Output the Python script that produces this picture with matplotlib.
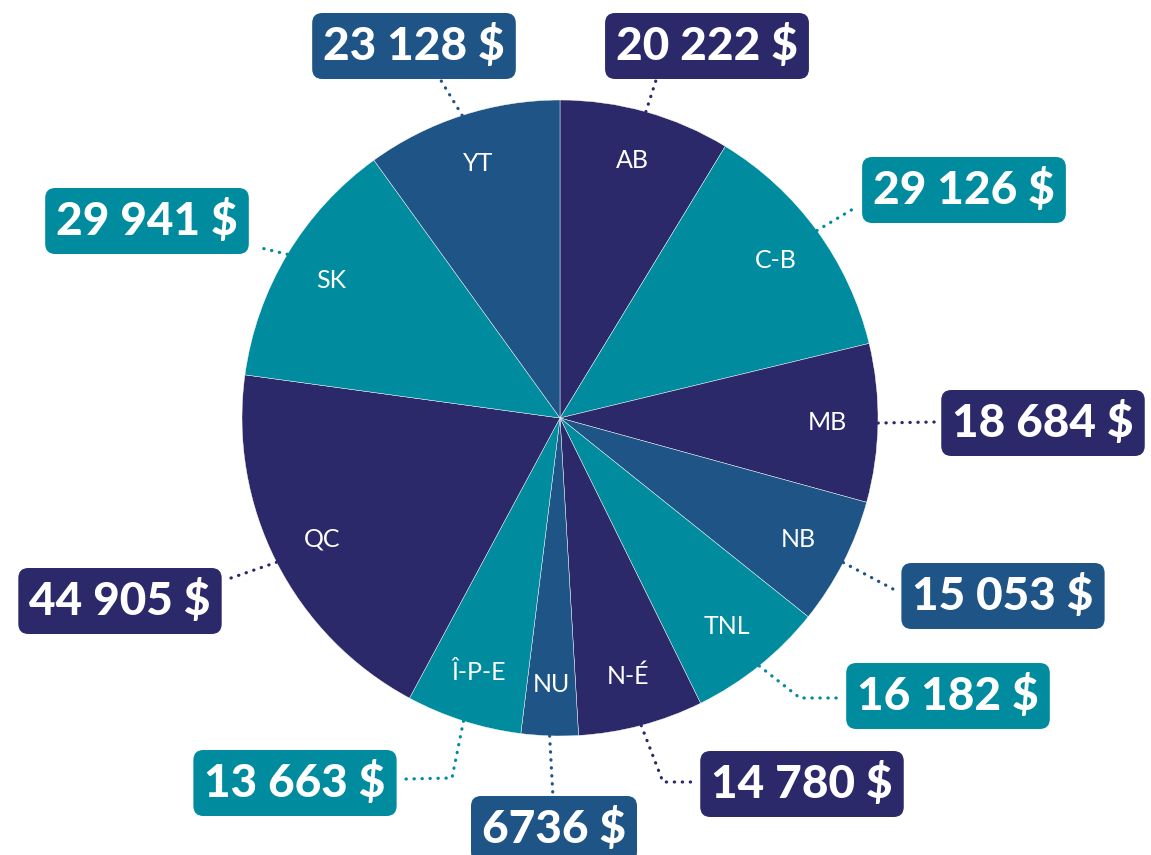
import numpy as np
import matplotlib.pyplot as plt

# slices, clockwise from 12 o'clock
provinces = ['AB', 'C-B', 'MB', 'NB', 'TNL', 'N-É', 'NU', 'Î-P-E', 'QC', 'SK', 'YT']
amounts = [20222, 29126, 18684, 15053, 16182, 14780, 6736, 13663, 44905, 29941, 23128]
amount_labels = ['20 222 $', '29 126 $', '18 684 $', '15 053 $', '16 182 $', '14 780 $',
                 '6736 $', '13 663 $', '44 905 $', '29 941 $', '23 128 $']

navy = '#2b2969'
teal = '#008c9e'
blue = '#1f5586'
colours = [navy, teal, navy, blue, teal, navy, blue, teal, navy, teal, blue]

W, H = 1151, 855
cx, cy, R = 560, 418, 318   # pixel position of pie (y from top)

# value boxes (pixel centre, y from top) and leader path after the pie edge
box_pos = [(707, 43), (964, 187), (1043, 420), (1003, 593), (948, 693), (802, 781),
           (554, 826), (295, 780), (120, 598), (147, 218), (414, 43)]
leader_pts = [[(658, 74)], [(853, 209)], [(935, 422)], [(893, 589)],
              [(800, 698), (838, 698)], [(663, 782), (692, 782)],
              [(553, 797)], [(452, 778), (406, 779)], [(231, 578)],
              [(257, 247)], [(437, 74)]]

fig = plt.figure(figsize=(W / 100, H / 100), dpi=100)
ax = fig.add_axes([0, 0, 1, 1])

wedges, texts = ax.pie(amounts, labels=provinces, colors=colours, startangle=90,
                       counterclock=False, radius=R, center=(cx, H - cy),
                       labeldistance=0.84, frame=True,
                       wedgeprops=dict(edgecolor='white', linewidth=0.3),
                       textprops=dict(color='white', fontsize=18, family='Lato',
                                      ha='center', va='center'))
ax.set_xlim(0, W)
ax.set_ylim(0, H)
ax.set_aspect('equal')
ax.axis('off')

for w, lab, col, (bx, by), pts in zip(wedges, amount_labels, colours, box_pos, leader_pts):
    mid = np.deg2rad((w.theta1 + w.theta2) / 2)
    xs = [cx + R * np.cos(mid)] + [p[0] for p in pts]
    ys = [H - cy + R * np.sin(mid)] + [H - p[1] for p in pts]
    ax.plot(xs, ys, color=col, lw=2.3, linestyle=(0, (0.1, 2.4)),
            dash_capstyle='round', solid_joinstyle='round', zorder=1)
    ax.text(bx, H - by + 1, lab, color='white', fontsize=33, fontweight='black',
            family='Lato', ha='center', va='center_baseline', zorder=3,
            bbox=dict(boxstyle='round,pad=0.24,rounding_size=0.22', fc=col, ec='none'))

fig.savefig('out.png', dpi=100)
